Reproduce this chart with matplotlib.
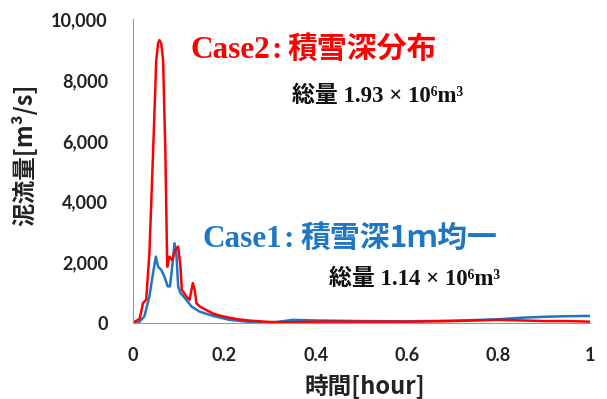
import matplotlib
matplotlib.use('Agg')
from matplotlib import pyplot as plt
from matplotlib.ticker import FuncFormatter

# Case2 (red) - 積雪深分布
t_red = [0, 0.005, 0.01, 0.015, 0.022, 0.029, 0.036, 0.044, 0.051, 0.055, 0.058, 0.062,
         0.066, 0.071, 0.075, 0.08, 0.086, 0.093, 0.099, 0.104, 0.107, 0.117, 0.124,
         0.131, 0.135, 0.139, 0.146, 0.161, 0.175, 0.19, 0.21, 0.234, 0.26, 0.3, 0.35,
         0.4, 0.5, 0.6, 0.7, 0.8, 0.85, 0.9, 0.95, 1.0]
q_red = [0, 60, 100, 160, 660, 770, 2290, 5580, 8650, 9200, 9310, 9200,
         8650, 5580, 1860, 2190, 2080, 2410, 2520, 1860, 1100, 880, 770,
         1320, 1100, 660, 550, 430, 320, 250, 180, 120, 80, 40, 30,
         50, 50, 50, 70, 110, 90, 70, 70, 50]

# Case1 (blue) - 積雪深1m均一
t_blue = [0, 0.01, 0.015, 0.025, 0.036, 0.044, 0.05, 0.055, 0.062, 0.069, 0.076, 0.081,
          0.086, 0.091, 0.095, 0.099, 0.104, 0.117, 0.128, 0.146, 0.175, 0.211, 0.262,
          0.3, 0.35, 0.4, 0.5, 0.6, 0.7, 0.8, 0.85, 0.9, 0.95, 1.0]
q_blue = [0, 0, 60, 220, 880, 1640, 2190, 1860, 1750, 1530, 1210, 1210,
          1860, 2630, 2300, 1210, 990, 770, 550, 380, 240, 110, 30,
          10, 110, 90, 70, 60, 80, 130, 180, 210, 230, 240]

x_ticks = [0, 0.2, 0.4, 0.6, 0.8, 1.0]
y_ticks = [0, 2000, 4000, 6000, 8000, 10000]

red = '#FF0000'
blue = '#1F77C4'
cjk = ['Noto Sans CJK JP', 'DejaVu Sans']
serif = ['Liberation Serif', 'Noto Sans CJK JP']

fig = plt.figure(figsize=(6.07, 3.99), dpi=100)
ax = fig.add_axes([0.219, 0.19, 0.753, 0.762])

ax.plot(t_blue, q_blue, color=blue, lw=1.8)
ax.plot(t_red, q_red, color=red, lw=1.8)

ax.set_xlim(0, 1)
ax.set_ylim(0, 10000)
ax.set_xticks(x_ticks)
ax.set_yticks(y_ticks)
ax.xaxis.set_major_formatter(FuncFormatter(lambda v, p: '%g' % v))
ax.yaxis.set_major_formatter(FuncFormatter(lambda v, p: '{:,.0f}'.format(v)))
ax.tick_params(length=0)
ax.tick_params(axis='x', pad=17)
ax.tick_params(axis='y', pad=18)
for lab in ax.get_xticklabels() + ax.get_yticklabels():
    lab.set_fontfamily('Lato')
    lab.set_fontweight('bold')
    lab.set_fontsize(13)
    lab.set_color('#222222')

for s in ['top', 'right']:
    ax.spines[s].set_visible(False)
for s in ['left', 'bottom']:
    ax.spines[s].set_color('#999999')
    ax.spines[s].set_linewidth(0.8)

ax.set_xlabel('時間[hour]', family=cjk, fontweight='bold', fontsize=17, color='#222222')
ax.set_ylabel('泥流量[m³/s]', family=cjk, fontweight='bold', fontsize=17, color='#222222')
ax.xaxis.set_label_coords(0.508, -0.164)
ax.yaxis.set_label_coords(-0.21, 0.553)

# annotations (figure pixel coordinates)
def ftext(px, py, s, **kw):
    fig.text(px / 607, 1 - py / 399, s, va='baseline', **kw)

ftext(190, 58, 'Case2', family=serif, fontweight='bold', fontsize=22.5, color=red)
ftext(271, 58, ':', family=serif, fontweight='bold', fontsize=22.5, color=red)
ftext(287, 58, '積雪深分布', family=cjk, fontweight='bold', fontsize=21.5, color=red)
ftext(292, 102, '総量 1.93 × 10⁶m³', family=serif, fontweight='bold', fontsize=16.5, color='#111111')

ftext(203, 247, 'Case1', family=serif, fontweight='bold', fontsize=22.5, color=blue)
ftext(283, 247, ':', family=serif, fontweight='bold', fontsize=22.5, color=blue)
ftext(300, 247, '積雪深1ｍ均一', family=cjk, fontweight='bold', fontsize=21.5, color=blue)
ftext(329, 285, '総量 1.14 × 10⁶m³', family=serif, fontweight='bold', fontsize=16.5, color='#111111')

fig.savefig('out.png', dpi=100)
